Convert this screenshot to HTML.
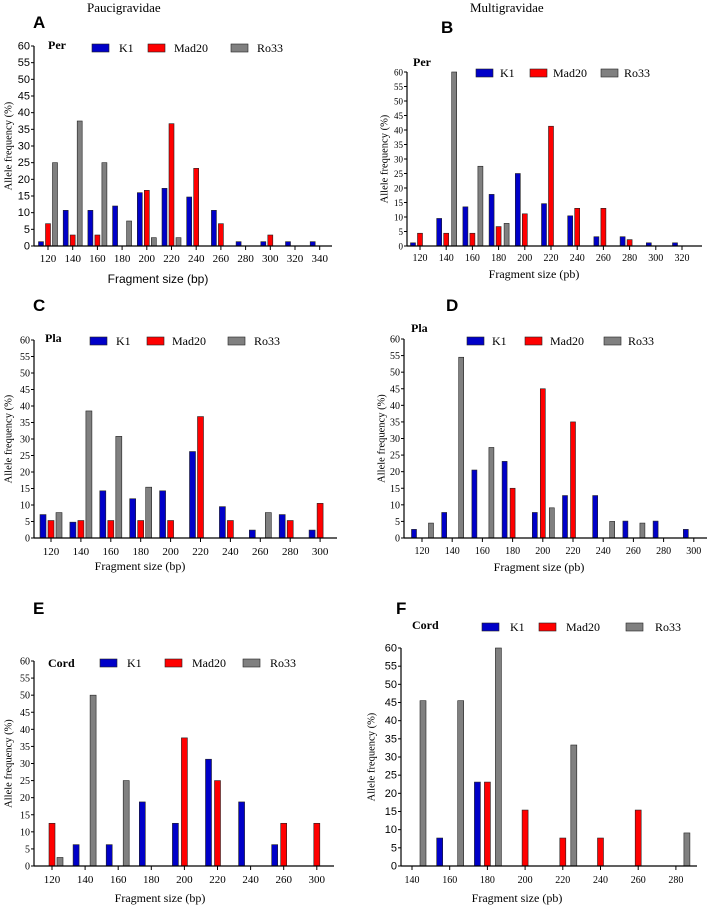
<!DOCTYPE html>
<html><head><meta charset="utf-8">
<style>
body{margin:0;background:#fff;}
svg{display:block;}
.sans{font-family:"Liberation Sans",sans-serif;}
.serif{font-family:"Liberation Serif",serif;}
</style></head>
<body>
<svg id="fig" width="709" height="906" viewBox="0 0 709 906" xmlns="http://www.w3.org/2000/svg">
<text x="87" y="12" class="serif" font-size="13">Paucigravidae</text>
<text x="470" y="12" class="serif" font-size="13">Multigravidae</text>
</svg>
<script>
// ---- data ----
const catsA = [120,140,160,180,200,220,240,260,280,300,320,340];
const k1A   = [1.3,10.7,10.7,12,16,17.3,14.7,10.7,1.3,1.3,1.3,1.3];
const madA  = [6.7,3.3,3.3,0,16.7,36.7,23.3,6.7,0,3.3,0,0];
const roA   = [25,37.5,25,7.5,2.5,2.5,0,0,0,0,0,0];

const catsB = [120,140,160,180,200,220,240,260,280,300,320];
const k1B   = [1.1,9.5,13.5,17.8,25,14.6,10.4,3.2,3.2,1.1,1.1];
const madB  = [4.4,4.4,4.4,6.7,11.1,41.3,13,13,2.2,0,0];
const roB   = [0,60,27.5,7.8,0,0,0,0,0,0,0];

const catsC = [120,140,160,180,200,220,240,260,280,300];
const k1C   = [7.1,4.8,14.3,11.9,14.3,26.2,9.5,2.4,7.1,2.4];
const madC  = [5.3,5.3,5.3,5.3,5.3,36.8,5.3,0,5.3,10.5];
const roC   = [7.7,38.5,30.8,15.4,0,0,0,7.7,0,0];

const catsD = [120,140,160,180,200,220,240,260,280,300];
const k1D   = [2.6,7.7,20.5,23.1,7.7,12.8,12.8,5.1,5.1,2.6];
const madD  = [0,0,0,15,45,35,0,0,0,0];
const roD   = [4.5,54.5,27.3,0,9.1,0,5,4.5,0,0];

const catsE = [120,140,160,180,200,220,240,260,300];
const k1E   = [0,6.25,6.25,18.75,12.5,31.25,18.75,6.25,0];
const madE  = [12.5,0,0,0,37.5,25,0,12.5,12.5];
const roE   = [2.5,50,25,0,0,0,0,0,0];

const catsF = [140,160,180,200,220,240,260,280];
const k1F   = [0,7.7,23.1,0,0,0,0,0];
const madF  = [0,0,23.1,15.4,7.7,7.7,15.4,0];
const roF   = [45.5,45.5,60,0,33.3,0,0,9.1];

const yTicks = [0,5,10,15,20,25,30,35,40,45,50,55,60];
const seriesNames = ["K1","Mad20","Ro33"];
const colors = ["#0000c8","#ff0000","#808080"];

// ---- layout ----
const panels = [
 {id:"a",letter:"A",lx:33,ly:28,tissue:"Per",tx:48,ty:49,cats:catsA,vals:[k1A,madA,roA],ax:34,xEnd:332,y0:246,y60:46,first:48,step:24.7,offs:[-7,0,7],bw:5,ytf:"sans",yfs:11,xfs:11,
  leg:[[92,119],[148,174],[231,257]],legY:48,xl:"Fragment size (bp)",xlF:"sans",xlX:158,xlY:283,ylX:8,xTickY:262},
 {id:"b",letter:"B",lx:441,ly:33,tissue:"Per",tx:413,ty:66,cats:catsB,vals:[k1B,madB,roB],ax:407,xEnd:702,y0:246,y60:72,first:420,step:26.2,offs:[-7,0,8],bw:5,ytf:"serif",yfs:9,xfs:10,
  leg:[[476,500],[530,553],[601,624]],legY:73,xl:"Fragment size (pb)",xlF:"serif",xlX:534,xlY:278,ylX:384,xTickY:261},
 {id:"c",letter:"C",lx:33,ly:311,tissue:"Pla",tx:45,ty:342,cats:catsC,vals:[k1C,madC,roC],ax:34,xEnd:337,y0:538,y60:340,first:51,step:29.9,offs:[-8,0,8],bw:6,ytf:"serif",yfs:10,xfs:11,
  leg:[[90,116],[147,172],[228,254]],legY:341,xl:"Fragment size (bp)",xlF:"serif",xlX:140,xlY:570,ylX:8,xTickY:555},
 {id:"d",letter:"D",lx:446,ly:311,tissue:"Pla",tx:411,ty:332,cats:catsD,vals:[k1D,madD,roD],ax:404,xEnd:707,y0:538,y60:339,first:422,step:30.2,offs:[-8,0,9],bw:5,ytf:"serif",yfs:10,xfs:10,
  leg:[[467,492],[525,550],[604,628]],legY:341,xl:"Fragment size (pb)",xlF:"serif",xlX:539,xlY:571,ylX:381,xTickY:554},
 {id:"e",letter:"E",lx:33,ly:614,tissue:"Cord",tx:48,ty:667,cats:catsE,vals:[k1E,madE,roE],ax:34,xEnd:334,y0:866,y60:661,first:52,step:33.1,offs:[-9,0,8],bw:6,ytf:"serif",yfs:10,xfs:11,
  leg:[[100,127],[165,192],[243,270]],legY:663,xl:"Fragment size (bp)",xlF:"serif",xlX:160,xlY:902,ylX:8,xTickY:883},
 {id:"f",letter:"F",lx:396,ly:614,tissue:"Cord",tx:412,ty:629,cats:catsF,vals:[k1F,madF,roF],ax:401,xEnd:697,y0:866,y60:648,first:412,step:37.7,offs:[-10,0,11],bw:6,ytf:"sans",yfs:11,xfs:10,
  leg:[[482,510],[539,566],[626,655]],legY:627,xl:"Fragment size (pb)",xlF:"serif",xlX:517,xlY:902,ylX:371,xTickY:883}
];

const svg = document.getElementById("fig");
const NS = "http://www.w3.org/2000/svg";
function mk(tag, attrs, parent, text){
  const el = document.createElementNS(NS, tag);
  for (const k in attrs) el.setAttribute(k, attrs[k]);
  if (text !== undefined) el.textContent = text;
  parent.appendChild(el);
  return el;
}

panels.forEach(p => {
  const g = mk("g", {}, svg);
  
  
  const yScale = v => p.y0 - (v/60)*(p.y0 - p.y60);
  const xScale = i => p.first + i*p.step;

  const L = mk("text", {x:p.lx, y:p.ly, class:"sans", "font-size":17, "font-weight":"bold"}, g, p.letter);
  
  
  const T = mk("text", {x:p.tx, y:p.ty, class:"serif", "font-size":12, "font-weight":"bold"}, g, p.tissue);
  
  

  p.vals.forEach((arr, s) => {
    arr.forEach((v, i) => {
      if (v <= 0) return;
      const x = xScale(i) + p.offs[s] - p.bw/2;
      const r = mk("rect", {x:x, y:yScale(v), width:p.bw, height:p.y0 - yScale(v), fill:colors[s], stroke:"#222", "stroke-width":0.6}, g);
      
      
    });
  });

  const ya = mk("line", {x1:p.ax, y1:p.y60, x2:p.ax, y2:p.y0, stroke:"#000", "stroke-width":1.2}, g);
  
  
  const xa = mk("line", {x1:p.ax, y1:p.y0, x2:p.xEnd, y2:p.y0, stroke:"#000", "stroke-width":1.2}, g);
  
  

  yTicks.forEach(t => {
    const y = yScale(t);
    mk("line", {x1:p.ax-3, y1:y, x2:p.ax, y2:y, stroke:"#000", "stroke-width":1}, g);
    const tl = mk("text", {x:p.ax-4, y:y+3.5, "text-anchor":"end", class:p.ytf, "font-size":p.yfs}, g, t);
    
    
  });
  p.cats.forEach((c, i) => {
    const x = xScale(i);
    mk("line", {x1:x, y1:p.y0, x2:x, y2:p.y0+4, stroke:"#000", "stroke-width":1}, g);
    const tl = mk("text", {x:x, y:p.xTickY, "text-anchor":"middle", class:"serif", "font-size":p.xfs}, g, c);
    
    
  });

  const xl = mk("text", {x:p.xlX, y:p.xlY, "text-anchor":"middle", class:p.xlF, "font-size":12}, g, p.xl);
  
  
  const yc = (p.y0 + p.y60)/2;
  const yl = mk("text", {x:p.ylX, y:yc, "text-anchor":"middle", class:"serif", "font-size":10.5, transform:"rotate(-90 "+p.ylX+" "+yc+")", dy:"0.35em"}, g, "Allele frequency (%)");
  
  

  p.leg.forEach((lg, s) => {
    const b = mk("rect", {x:lg[0], y:p.legY-4, width:17, height:8, fill:colors[s], stroke:"#222", "stroke-width":0.6}, g);
    
    
    const lt = mk("text", {x:lg[1], y:p.legY+4, class:"serif", "font-size":12}, g, seriesNames[s]);
    
    
  });
});
</script>
</body></html>
